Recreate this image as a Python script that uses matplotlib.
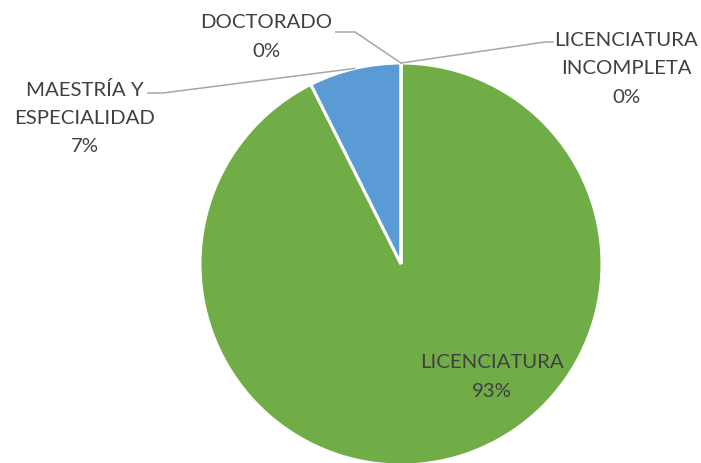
import numpy as np
import matplotlib
matplotlib.use("Agg")
import matplotlib.pyplot as plt
from matplotlib.lines import Line2D

categories = ["LICENCIATURA\nINCOMPLETA", "LICENCIATURA", "MAESTRÍA Y\nESPECIALIDAD", "DOCTORADO"]
values = [0, 25, 2, 0]
colors = ["#A5A5A5", "#70AD47", "#5B9BD5", "#FFC000"]

W, H = 701, 464
fig = plt.figure(figsize=(W / 100, H / 100), dpi=100)
plt.rcParams['font.family'] = ['Lato', 'DejaVu Sans']

def fx(px):
    return px / W

def fy(py):
    return 1 - py / H

cx, cy, r = 401, 265, 201
ax = fig.add_axes([fx(cx - r), fy(cy + r), 2 * r / W, 2 * r / H])
wedges, _ = ax.pie(values, colors=colors, startangle=90, counterclock=False,
                   radius=1, wedgeprops=dict(edgecolor="white", linewidth=2.2))
ax.set_xlim(-1, 1)
ax.set_ylim(-1, 1)
ax.set_aspect("equal")
ax.axis("off")

total = sum(values)
pcts = [f"{round(v / total * 100)}%" for v in values]

text_color = "#404040"
line_color = "#A6A6A6"
fs = 14.7

# label placements (pixel centers) and leader-line geometry
label_pos = {
    0: (626, 69),
    1: (492, 377),
    2: (85, 118),
    3: (266, 37),
}
leaders = {
    0: [(553, 43), (545, 43)],
    2: [(148, 94), (163, 94)],
    3: [(336, 33), (355, 33)],
}

for i, (cat, p) in enumerate(zip(categories, pcts)):
    x, y = label_pos[i]
    fig.text(fx(x), fy(y), f"{cat}\n{p}", ha="center", va="center",
             fontsize=fs, color=text_color, linespacing=1.82)

for i, pts in leaders.items():
    w = wedges[i]
    mid = np.deg2rad((w.theta1 + w.theta2) / 2)
    anchor_disp = ax.transData.transform((np.cos(mid), np.sin(mid)))
    anchor_fig = fig.transFigure.inverted().transform(anchor_disp)
    xs = [fx(p[0]) for p in pts] + [anchor_fig[0]]
    ys = [fy(p[1]) for p in pts] + [anchor_fig[1]]
    fig.add_artist(Line2D(xs, ys, transform=fig.transFigure, color=line_color, lw=1.1))

fig.savefig("out.png", dpi=100, facecolor="white")
